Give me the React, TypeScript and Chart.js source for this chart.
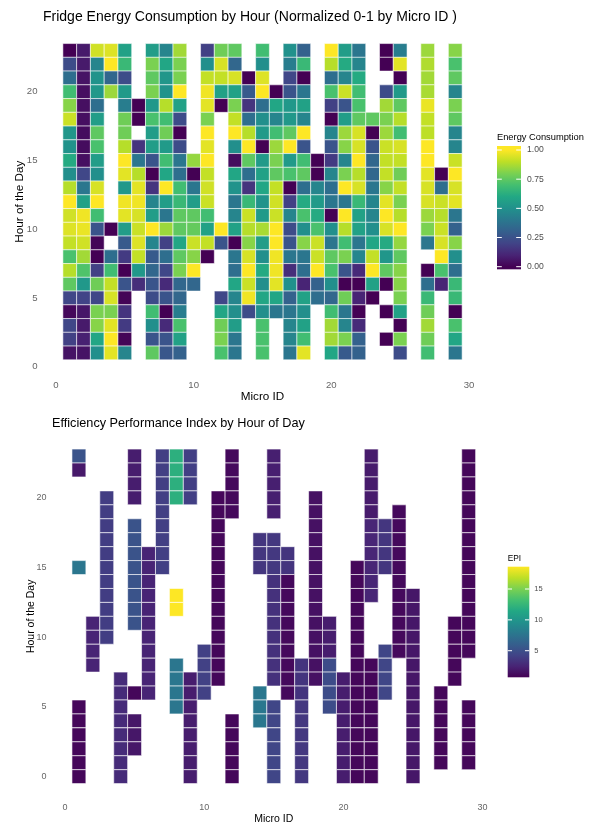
import React, { useEffect, useRef } from 'react';
import { Chart, registerables } from 'chart.js';

Chart.register(...registerables);

const _ = null;
const FONT = "'Liberation Sans', Arial, Helvetica, sans-serif";

// ---------- shared categories / ticks ----------
const microIds = [1, 2, 3, 4, 5, 6, 7, 8, 9, 10, 11, 12, 13, 14, 15, 16, 17, 18, 19, 20, 21, 22, 23, 24, 25, 26, 27, 28, 29];
const energyHours = [23, 22, 21, 20, 19, 18, 17, 16, 15, 14, 13, 12, 11, 10, 9, 8, 7, 6, 5, 4, 3, 2, 1];
const epiHours = [23, 22, 21, 20, 19, 18, 17, 16, 15, 14, 13, 12, 11, 10, 9, 8, 7, 6, 5, 4, 3, 2, 1, 0];
const xTickValues = [0, 10, 20, 30];
const yTickValues = [0, 5, 10, 15, 20];
const energyLegendTicks = [0, 0.25, 0.5, 0.75, 1];
const energyLegendLabels = ['0.00', '0.25', '0.50', '0.75', '1.00'];
const epiLegendTicks = [5, 10, 15];
const epiLegendLabels = ['5', '10', '15'];
const epiMin = 0.69;
const epiMax = 18.6;

// ---------- Chart 1: normalized energy (hours 23 -> 1) per Micro ID ----------
const energyId1 = [0.00, 0.23, 0.36, 0.69, 0.82, 0.92, 0.52, 0.51, 0.61, 0.49, 0.89, 1.00, 0.93, 0.95, 0.91, 0.71, 0.89, 0.75, 0.21, 0.02, 0.21, 0.19, 0.05];
const energyId2 = [0.07, 0.07, 0.05, 0.04, 0.04, 0.04, 0.03, 0.03, 0.04, 0.21, 0.39, 0.57, 0.98, 0.97, 0.93, 0.86, 0.72, 0.53, 0.20, 0.06, 0.07, 0.09, 0.05];
const energyId3 = [0.93, 0.45, 0.51, 0.53, 0.36, 0.55, 0.75, 0.71, 0.55, 0.49, 0.94, 1.00, 0.69, 0.26, 0.01, 0.00, 0.19, 0.78, 0.21, 0.80, 0.82, 0.59, 0.49];
const energyId4 = [0.95, 1.00, 0.33, 0.85, _, _, _, _, _, _, _, _, _, 0.00, _, 0.36, 0.69, 0.91, 0.94, 0.80, 0.96, 1.00, 0.96];
const energyId5 = [0.57, 0.67, 0.23, 0.54, 0.42, 0.78, 0.78, 0.89, 1.00, 0.96, 0.53, 0.98, 0.96, 0.55, 0.28, 0.17, 0.00, 0.26, 0.01, 0.15, 0.17, 0.01, 0.45];
const energyId6 = [_, _, _, _, 0.00, 0.00, _, 0.15, 0.39, 0.89, 0.96, 0.98, 0.94, 0.92, 0.95, 0.91, 0.53, 0.13, _, _, _, _, _];
const energyId7 = [0.55, 0.80, 0.75, 0.80, 0.53, 0.71, 0.55, 0.55, 0.26, 0.00, 0.15, 0.45, 0.55, 1.00, 0.45, 0.28, 0.33, 0.26, 0.23, 0.69, 0.49, 0.26, 0.75];
const energyId8 = [0.45, 0.59, 0.52, 0.51, 0.89, 0.69, 0.78, 0.54, 0.69, 0.59, 1.00, 0.55, 0.39, 0.85, 0.19, 0.36, 0.21, 0.12, 0.26, 0.00, 0.12, 0.26, 0.27];
const energyId9 = [0.86, 0.80, 0.80, 1.00, 0.57, 0.23, 0.00, 0.23, 0.39, 0.36, 0.69, 0.67, 0.75, 0.75, 0.59, 0.75, 0.80, 0.33, 0.33, 0.42, 0.71, 0.57, 0.31];
const energyId10 = [_, _, _, _, _, _, _, _, 0.84, 0.00, 0.39, 0.55, 0.75, 0.76, 0.92, 0.82, 1.00, 0.33, _, _, _, _, _];
const energyId11 = [0.19, 0.49, 0.91, 0.98, 0.96, 0.80, 1.00, 0.96, 1.00, 0.91, 0.93, 0.92, 0.69, 0.57, 0.91, 0.00, _, _, _, _, _, _, _];
const energyId12 = [0.78, 0.94, 0.91, 0.57, 0.00, _, _, _, _, _, _, _, _, 1.00, 0.26, _, _, _, 0.21, 0.59, 0.78, 0.80, 0.71];
const energyId13 = [0.75, 0.33, 0.94, 0.57, 0.80, 0.91, 1.00, 0.49, 0.03, 0.59, 0.51, 0.39, 0.45, 0.57, 0.00, 0.39, 0.36, 0.59, 0.45, 0.49, 0.55, 0.39, 0.39];
const energyId14 = [_, _, 0.00, 0.28, 0.15, 0.36, 0.89, 1.00, 0.75, 0.36, 0.15, 0.67, 0.92, 0.89, 0.82, 0.94, 1.00, 0.92, 0.98, 0.23, _, _, _];
const energyId15 = [0.69, 0.49, 0.95, 1.00, 0.36, 0.49, 0.54, 0.00, 0.54, 0.57, 0.59, 0.51, 0.54, 0.87, 0.55, 0.49, 0.61, 0.49, 0.59, 0.49, 0.71, 0.71, 0.71];
const energyId16 = [_, _, _, 0.00, 0.59, 0.45, 0.69, 0.85, 0.80, 0.75, 0.91, 0.93, 0.92, 1.00, 1.00, 0.98, 0.98, 0.96, 0.59, 0.39, _, _, _];
const energyId17 = [0.50, 0.42, 0.21, 0.26, 0.53, 0.53, 0.75, 1.00, 0.54, 0.71, 0.00, 0.19, 0.45, 0.23, 0.26, 0.39, 0.13, 0.50, 0.31, 0.39, 0.45, 0.45, 0.39];
const energyId18 = [0.31, 0.67, 0.00, 0.39, 0.57, 0.45, 1.00, 0.26, 0.69, 0.75, 0.36, 0.61, 0.71, 0.49, 0.82, 0.39, 0.36, 0.10, 0.57, 0.49, 0.57, 0.69, 0.96];
const energyId19 = [_, _, _, _, _, _, _, _, 0.00, 0.00, 0.45, 0.54, 0.61, 0.71, 0.92, 0.92, 1.00, 0.31, 0.36, _, _, _, _];
const energyId20 = [1.00, 0.89, 0.36, 0.71, 0.19, 0.00, 0.45, 0.26, 0.17, 0.45, 0.36, 0.39, 0.00, 0.49, 0.39, 0.75, 0.71, 0.49, 0.33, 0.69, 0.86, 0.86, 0.59];
const energyId21 = [0.55, 0.61, 0.45, 0.92, 0.26, 0.55, 0.85, 0.82, 0.45, 0.80, 1.00, 0.39, 1.00, 0.89, 0.69, 0.80, 0.26, 0.00, 0.78, 0.39, 0.45, 0.80, 0.28];
const energyId22 = [0.39, 0.45, 0.61, 0.69, 0.71, 0.75, 0.94, 0.94, 1.00, 0.89, 0.94, 0.67, 0.57, 0.57, 0.39, 0.45, 0.12, 0.00, 0.10, 0.00, 0.12, 0.31, 0.31];
const energyId23 = [_, _, _, _, _, 0.75, 0.00, 0.26, 0.33, 0.33, 0.39, 0.45, 0.45, 0.49, 0.59, 0.91, 1.00, 0.57, 0.00, _, _, _, _];
const energyId24 = [0.00, 0.00, _, 0.23, 0.86, 0.80, 0.85, 0.92, 0.91, 0.91, 0.82, 0.96, 1.00, 0.94, 0.61, 0.52, 0.75, 0.00, _, 0.00, _, 0.00, _];
const energyId25 = [0.42, 0.96, 0.00, 0.54, 0.75, 0.89, 0.69, 0.94, 0.91, 0.78, 0.91, 0.80, 0.89, 1.00, 0.84, 0.75, 0.82, 0.82, 0.80, 0.57, 0.00, 0.80, 0.23];
const energyId26 = [_, _, _, _, _, _, _, _, _, _, _, _, _, _, _, _, _, _, _, _, _, _, _];
const energyId27 = [0.85, 0.88, 0.86, 0.87, 0.97, 0.91, 0.90, 1.00, 1.00, 0.96, 0.94, 0.94, 0.85, 0.80, 0.39, _, 0.00, 0.36, 0.67, 0.78, 0.86, 0.78, 0.69];
const energyId28 = [_, _, _, _, _, _, _, _, _, 0.00, 0.36, 0.92, 0.89, 0.92, 0.94, 1.00, 0.71, 0.10, _, _, _, _, _];
const energyId29 = [0.82, 0.71, 0.75, 0.45, 0.80, 0.75, 0.45, 0.45, 0.92, 1.00, 0.94, 0.96, 0.39, 0.31, 0.82, 0.49, 0.36, 0.67, 0.67, 0.00, 0.71, 0.59, 0.39];

const energyColumns = [
  energyId1, energyId2, energyId3, energyId4, energyId5, energyId6, energyId7, energyId8, energyId9, energyId10,
  energyId11, energyId12, energyId13, energyId14, energyId15, energyId16, energyId17, energyId18, energyId19, energyId20,
  energyId21, energyId22, energyId23, energyId24, energyId25, energyId26, energyId27, energyId28, energyId29,
];

// ---------- Chart 2: EPI (hours 23 -> 0) per Micro ID ----------
const epiId1 = [5.3, 1.9, _, _, _, _, _, _, 7.7, _, _, _, _, _, _, _, _, _, 1.0, 1.0, 1.0, 1.0, 1.0, 1.0];
const epiId2 = [_, _, _, _, _, _, _, _, _, _, _, _, 2.5, 2.5, 2.5, 2.5, _, _, _, _, _, _, _, _];
const epiId3 = [_, _, _, 3.9, 3.9, 3.9, 3.9, 3.9, 3.9, 3.9, 3.9, 3.9, 3.9, 3.9, _, _, _, _, _, _, _, _, _, _];
const epiId4 = [_, _, _, _, _, _, _, _, _, _, _, _, _, _, _, _, 2.9, 2.9, 2.9, 2.9, 2.9, 2.9, 2.9, 2.9];
const epiId5 = [2.1, 2.1, 2.1, 2.1, _, 5.3, 5.3, 5.3, 5.3, 5.3, 5.3, 5.3, 5.3, _, _, _, _, 1.0, _, 1.8, 1.8, 1.8, _, _];
const epiId6 = [_, _, _, _, _, _, _, 2.5, 2.5, 2.5, 2.5, 2.5, 2.5, 2.5, 2.5, 2.5, 2.5, 2.5, _, _, _, _, _, _];
const epiId7 = [4.0, 4.0, 4.0, 4.0, 4.0, 4.0, 4.0, 4.0, 4.0, _, _, _, _, _, _, _, _, _, _, _, _, _, _, _];
const epiId8 = [12.0, 12.0, 12.0, 12.0, _, _, _, _, _, _, 18.6, 18.6, _, _, _, 7.7, 7.7, 7.7, 7.7, _, _, _, _, _];
const epiId9 = [4.0, 4.0, 4.0, 4.0, _, _, _, _, _, _, _, _, _, _, _, _, 2.1, 2.1, 2.1, 2.1, 2.1, 2.1, 2.1, 2.1];
const epiId10 = [_, _, _, _, _, _, _, _, _, _, _, _, _, _, 4.1, 4.1, 4.1, 4.1, _, _, _, _, _, _];
const epiId11 = [_, _, _, 1.0, 1.0, 1.0, 1.0, 1.0, 1.0, 1.0, 1.0, 1.0, 1.0, 1.0, 1.0, 1.0, 1.0, _, _, _, _, _, _, _];
const epiId12 = [1.1, 1.1, 1.1, 1.1, 1.1, _, _, _, _, _, _, _, _, _, _, _, _, _, _, 1.0, 1.0, 1.0, 1.0, 1.0];
const epiId13 = [_, _, _, _, _, _, _, _, _, _, _, _, _, _, _, _, _, _, _, _, _, _, _, _];
const epiId14 = [_, _, _, _, _, _, 3.5, 3.5, 3.5, _, _, _, _, _, _, _, _, 7.8, 7.8, 7.8, _, _, _, _];
const epiId15 = [2.2, 2.2, 2.2, 2.2, 2.2, _, 3.6, 3.6, 3.6, 3.2, 3.2, 3.2, 3.2, 3.2, 3.2, 3.2, 3.2, _, 4.4, 4.4, 4.4, 4.4, 4.4, 4.4];
const epiId16 = [_, _, _, _, _, _, _, 3.4, 3.4, 1.1, 1.1, 1.1, 1.1, 1.1, 1.1, 1.1, 1.1, 1.1, _, _, _, _, _, _];
const epiId17 = [_, _, _, _, _, _, _, _, _, _, _, _, _, _, _, 3.4, 3.4, 3.4, 3.6, 3.6, 3.6, 3.6, 3.6, 3.6];
const epiId18 = [_, _, _, 1.5, 1.5, 1.5, 1.5, 1.5, 1.5, 1.5, 1.5, 1.5, 1.5, 1.5, 1.5, 1.5, 1.5, _, _, _, _, _, _, _];
const epiId19 = [_, _, _, _, _, _, _, _, _, _, _, _, 2.1, 2.1, 2.1, 4.8, 4.8, 4.8, 4.8, _, _, _, _, _];
const epiId20 = [_, _, _, _, _, _, _, _, _, _, _, _, _, _, _, _, 2.1, 2.1, 2.1, 2.1, 2.1, 2.1, 2.1, 2.1];
const epiId21 = [_, _, _, _, _, _, _, _, 1.0, 1.0, 1.0, 1.0, 1.0, 1.0, 1.0, 1.0, 1.0, 1.0, 1.0, 1.0, 1.0, 1.0, 1.0, 1.0];
const epiId22 = [2.0, 2.0, 2.0, 2.0, 2.0, 2.6, 2.6, 2.6, 2.6, 2.6, 2.6, _, _, _, _, 1.0, 1.0, 1.0, 1.0, 1.0, 1.0, 1.0, 1.0, 1.0];
const epiId23 = [_, _, _, _, _, 3.5, 3.5, 3.5, 3.5, _, _, _, _, _, 4.4, 4.4, 4.4, 4.4, _, _, _, _, _, _];
const epiId24 = [_, _, _, _, 1.1, 1.1, 1.1, 1.1, 1.1, 1.1, 1.1, 1.1, 1.1, 1.1, 1.1, _, _, _, _, _, _, _, _, _];
const epiId25 = [_, _, _, _, _, _, _, _, _, _, 1.8, 1.8, 1.8, 1.8, 1.8, 1.8, 1.8, 1.8, 1.8, 1.8, 1.8, 1.8, 1.8, 1.8];
const epiId26 = [_, _, _, _, _, _, _, _, _, _, _, _, _, _, _, _, _, _, _, _, _, _, _, _];
const epiId27 = [_, _, _, _, _, _, _, _, _, _, _, _, _, _, _, _, _, 1.0, 1.0, 1.0, 1.0, 1.0, 1.0, _];
const epiId28 = [_, _, _, _, _, _, _, _, _, _, _, _, 1.0, 1.0, 1.0, 1.0, 1.0, _, _, _, _, _, _, _];
const epiId29 = [1.0, 1.0, 1.0, 1.0, 1.0, 1.0, 1.0, 1.0, 1.0, 1.0, 1.0, 1.0, 1.0, 1.0, 1.0, _, _, _, 1.0, 1.0, 1.0, 1.0, 1.0, _];

const epiColumns = [
  epiId1, epiId2, epiId3, epiId4, epiId5, epiId6, epiId7, epiId8, epiId9, epiId10,
  epiId11, epiId12, epiId13, epiId14, epiId15, epiId16, epiId17, epiId18, epiId19, epiId20,
  epiId21, epiId22, epiId23, epiId24, epiId25, epiId26, epiId27, epiId28, epiId29,
];

// ---------- colour ----------
const VIRIDIS = ['#440154', '#482475', '#414487', '#355f8d', '#2a788e', '#21918c', '#22a884', '#44bf70', '#7ad151', '#bddf26', '#fde725'];
const VIRIDIS_RGB = VIRIDIS.map((h) => {
  const n = parseInt(h.slice(1), 16);
  return [(n >> 16) & 255, (n >> 8) & 255, n & 255];
});
function viridis(t: number): string {
  const c = Math.min(1, Math.max(0, t)) * (VIRIDIS_RGB.length - 1);
  const i = Math.min(Math.floor(c), VIRIDIS_RGB.length - 2);
  const f = c - i;
  const a = VIRIDIS_RGB[i];
  const b = VIRIDIS_RGB[i + 1];
  return `rgb(${Math.round(a[0] + (b[0] - a[0]) * f)},${Math.round(a[1] + (b[1] - a[1]) * f)},${Math.round(a[2] + (b[2] - a[2]) * f)})`;
}

type Cell = { x: number; y: number; v: number };
function buildCells(columns: (number | null)[][], hours: number[]): Cell[] {
  const out: Cell[] = [];
  columns.forEach((col, ci) => {
    col.forEach((v, hi) => {
      if (v !== null) out.push({ x: microIds[ci], y: hours[hi], v });
    });
  });
  return out;
}

const cellRadius = (chart: any) => {
  const s = chart.scales.x;
  return Math.abs(s.getPixelForValue(1) - s.getPixelForValue(0)) / Math.SQRT2;
};

type Cfg = {
  cells: Cell[];
  toT: (v: number) => number;
  border: string;
  borderWidth: number;
  padTop: number;
  padRight: number;
  yMin: number;
  yMax: number;
  xHeight: number;
  yWidth: number;
  tickSize: number;
  xTickPad: number;
  yTickPad: number;
  axisTitleSize: number;
  xTitlePad: number;
  yTitlePad: number;
  title: string;
  titleX: number;
  titleY: number;
  titleSize: number;
  legendTitle: string;
  legendTitleX: number;
  legendTitleY: number;
  legendTitleSize: number;
  barX: number;
  barW: number;
  barTop: number;
  barBottom: number;
  zeroY: number;
  oneY: number;
  legendTicks: number[];
  legendLabels: string[];
  labelX: number;
  labelSize: number;
};

function decorPlugin(d: Cfg) {
  return {
    id: 'decor',
    afterDraw(chart: any) {
      const ctx = chart.ctx as CanvasRenderingContext2D;
      ctx.save();
      ctx.fillStyle = '#000';
      ctx.textAlign = 'left';
      ctx.textBaseline = 'alphabetic';
      ctx.font = `${d.titleSize}px ${FONT}`;
      ctx.fillText(d.title, d.titleX, d.titleY);
      ctx.textBaseline = 'middle';
      ctx.font = `${d.legendTitleSize}px ${FONT}`;
      ctx.fillText(d.legendTitle, d.legendTitleX, d.legendTitleY);
      const g = ctx.createLinearGradient(0, d.zeroY, 0, d.oneY);
      VIRIDIS.forEach((c, i) => g.addColorStop(i / (VIRIDIS.length - 1), c));
      ctx.fillStyle = g;
      ctx.fillRect(d.barX, d.barTop, d.barW, d.barBottom - d.barTop);
      ctx.strokeStyle = '#ffffff';
      ctx.lineWidth = 1;
      ctx.fillStyle = '#4d4d4d';
      ctx.font = `${d.labelSize}px ${FONT}`;
      const tl = d.barW / 5;
      d.legendTicks.forEach((v, i) => {
        const y = d.zeroY + (d.oneY - d.zeroY) * d.toT(v);
        ctx.beginPath();
        ctx.moveTo(d.barX, y);
        ctx.lineTo(d.barX + tl, y);
        ctx.moveTo(d.barX + d.barW - tl, y);
        ctx.lineTo(d.barX + d.barW, y);
        ctx.stroke();
        ctx.fillText(d.legendLabels[i], d.labelX, y);
      });
      ctx.restore();
    },
  };
}

function makeChart(canvas: HTMLCanvasElement, cfg: Cfg) {
  const tickColor = '#666666';
  return new Chart(canvas, {
    type: 'scatter',
    data: {
      datasets: [
        {
          data: cfg.cells as any,
          pointStyle: 'rect',
          pointRadius: (c: any) => cellRadius(c.chart),
          pointHoverRadius: (c: any) => cellRadius(c.chart),
          pointBackgroundColor: (c: any) => (c.raw ? viridis(cfg.toT(c.raw.v)) : '#440154'),
          pointBorderColor: cfg.border,
          pointBorderWidth: cfg.borderWidth,
        } as any,
      ],
    },
    options: {
      animation: false,
      responsive: false,
      devicePixelRatio: 1,
      events: [],
      layout: { padding: { top: cfg.padTop, right: cfg.padRight, left: 0, bottom: 0 } },
      plugins: {
        legend: { display: false },
        tooltip: { enabled: false },
        title: { display: false },
      },
      scales: {
        x: {
          type: 'linear',
          position: 'bottom',
          min: 0,
          max: 30,
          afterFit: (s: any) => {
            s.height = cfg.xHeight;
          },
          afterBuildTicks: (s: any) => {
            s.ticks = xTickValues.map((v) => ({ value: v }));
          },
          grid: { display: false, drawTicks: false },
          border: { display: false },
          ticks: {
            padding: cfg.xTickPad,
            color: tickColor,
            autoSkip: false,
            maxRotation: 0,
            font: { family: FONT, size: cfg.tickSize, lineHeight: 1.2 },
          },
          title: {
            display: true,
            text: 'Micro ID',
            color: '#000',
            font: { family: FONT, size: cfg.axisTitleSize, lineHeight: 1 },
            padding: { top: 0, bottom: cfg.xTitlePad },
          },
        },
        y: {
          type: 'linear',
          position: 'left',
          min: cfg.yMin,
          max: cfg.yMax,
          afterFit: (s: any) => {
            s.width = cfg.yWidth;
          },
          afterBuildTicks: (s: any) => {
            s.ticks = yTickValues.map((v) => ({ value: v }));
          },
          grid: { display: false, drawTicks: false },
          border: { display: false },
          ticks: {
            padding: cfg.yTickPad,
            color: tickColor,
            autoSkip: false,
            font: { family: FONT, size: cfg.tickSize, lineHeight: 1.2 },
          },
          title: {
            display: true,
            text: 'Hour of the Day',
            color: '#000',
            font: { family: FONT, size: cfg.axisTitleSize, lineHeight: 1 },
            padding: { top: cfg.yTitlePad, bottom: 0 },
          },
        },
      },
    } as any,
    plugins: [decorPlugin(cfg)],
  });
}

const topCfg: Cfg = {
  cells: buildCells(energyColumns, energyHours),
  toT: (v) => v,
  border: 'rgba(255,255,255,0.7)',
  borderWidth: 0.8,
  padTop: 36.7,
  padRight: 127,
  yMin: 0,
  yMax: 24,
  xHeight: 43.3,
  yWidth: 56,
  tickSize: 9.6,
  xTickPad: 12.5,
  yTickPad: 18.5,
  axisTitleSize: 11.7,
  xTitlePad: 7.15,
  yTitlePad: 13.6,
  title: 'Fridge Energy Consumption by Hour (Normalized 0-1 by Micro ID )',
  titleX: 43,
  titleY: 20.5,
  titleSize: 14,
  legendTitle: 'Energy Consumption',
  legendTitleX: 497,
  legendTitleY: 137,
  legendTitleSize: 9.3,
  barX: 497,
  barW: 24,
  barTop: 146,
  barBottom: 269.3,
  zeroY: 266.7,
  oneY: 150,
  legendTicks: energyLegendTicks,
  legendLabels: energyLegendLabels,
  labelX: 527,
  labelSize: 8.6,
};

const botCfg: Cfg = {
  cells: buildCells(epiColumns, epiHours),
  toT: (v) => (v - epiMin) / (epiMax - epiMin),
  border: 'rgba(255,255,255,0.6)',
  borderWidth: 1,
  padTop: 32.1,
  padRight: 113.4,
  yMin: -1,
  yMax: 24,
  xHeight: 34.4,
  yWidth: 65,
  tickSize: 9,
  xTickPad: 11.7,
  yTickPad: 18.5,
  axisTitleSize: 10.5,
  xTitlePad: 0.75,
  yTitlePad: 25.5,
  title: 'Efficiency Performance Index by Hour of Day',
  titleX: 52,
  titleY: 17,
  titleSize: 12.7,
  legendTitle: 'EPI',
  legendTitleX: 507.7,
  legendTitleY: 148.3,
  legendTitleSize: 8.3,
  barX: 507.7,
  barW: 21.6,
  barTop: 156.7,
  barBottom: 267.3,
  zeroY: 267.3,
  oneY: 156.8,
  legendTicks: epiLegendTicks,
  legendLabels: epiLegendLabels,
  labelX: 534.3,
  labelSize: 7.5,
};

export default function App() {
  const topRef = useRef<HTMLCanvasElement | null>(null);
  const botRef = useRef<HTMLCanvasElement | null>(null);

  useEffect(() => {
    if (!topRef.current || !botRef.current) return;
    const c1 = makeChart(topRef.current, topCfg);
    const c2 = makeChart(botRef.current, botCfg);
    return () => {
      c1.destroy();
      c2.destroy();
    };
  }, []);

  return (
    <div style={{ position: 'absolute', left: 0, top: 0, width: 596, height: 825, overflow: 'hidden', background: '#ffffff' }}>
      <canvas ref={topRef} width={596} height={410} style={{ position: 'absolute', left: 0, top: 0, width: 596, height: 410 }} />
      <canvas ref={botRef} width={596} height={415} style={{ position: 'absolute', left: 0, top: 410, width: 596, height: 415 }} />
    </div>
  );
}
